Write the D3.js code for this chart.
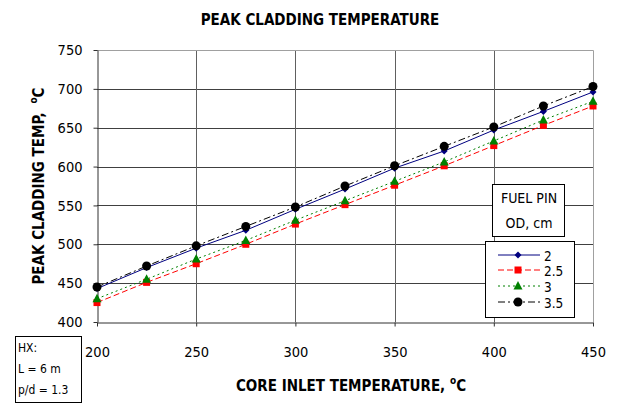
<!DOCTYPE html>
<html>
<head>
<meta charset="utf-8">
<script src="https://cdn.jsdelivr.net/npm/d3@7"></script>
<style>
  html, body { margin: 0; padding: 0; background: #fff; }
  svg { display: block; font-family: "DejaVu Sans Condensed", "DejaVu Sans", sans-serif; }
</style>
</head>
<body>
<svg id="chart" width="618" height="404"></svg>
<script>
// Core inlet temperature (°C)
const inletTemps = [200, 225, 250, 275, 300, 325, 350, 375, 400, 425, 450];

// Peak cladding temperature (°C) for each fuel pin outer diameter
const od2   = [443, 470, 495, 518, 545, 571, 598, 620, 647, 671, 696];
const od25  = [425, 451, 475, 500, 526, 551, 576, 601, 627, 653, 678];
const od3   = [430, 455, 481, 505, 531, 556, 581, 606, 633, 660, 684];
const od35  = [445, 472, 498, 523, 548, 575, 601, 626, 651, 678, 703];

const seriesNames = ["2", "2.5", "3", "3.5"];
const xTicks = [200, 250, 300, 350, 400, 450];
const yTicks = [400, 450, 500, 550, 600, 650, 700, 750];

const seriesStyle = [
  { values: od2,  color: "#000080", dash: null,        marker: "diamond" },
  { values: od25, color: "#ff0000", dash: "6,3",       marker: "square" },
  { values: od3,  color: "#008000", dash: "2,3",       marker: "triangle" },
  { values: od35, color: "#000000", dash: "7,3,2,3",   marker: "circle" }
];

const svg = d3.select("#chart");
const plot = { left: 97, right: 593, top: 50, bottom: 322 };

const x = d3.scaleLinear().domain([200, 450]).range([plot.left, plot.right]);
const y = d3.scaleLinear().domain([400, 750]).range([plot.bottom, plot.top]);

// Gridlines
const grid = svg.append("g");
grid.selectAll("line.h").data(yTicks.filter(v => v > 400 && v < 750)).join("line")
  .attr("x1", plot.left).attr("x2", plot.right)
  .attr("y1", d => Math.round(y(d)) + 0.5).attr("y2", d => Math.round(y(d)) + 0.5)
  .attr("stroke", "#404040").attr("stroke-width", 1);
grid.selectAll("line.v").data(xTicks.filter(v => v > 200 && v < 450)).join("line")
  .attr("y1", plot.top).attr("y2", plot.bottom)
  .attr("x1", d => Math.round(x(d)) + 0.5).attr("x2", d => Math.round(x(d)) + 0.5)
  .attr("stroke", "#606060").attr("stroke-width", 1);

// Plot frame (top and right)
svg.append("path")
  .attr("d", `M${plot.left},${plot.top + 0.5}H${plot.right + 0.5}V${plot.bottom}`)
  .attr("fill", "none").attr("stroke", "#a0a0a0");

// Axes
const xAxis = d3.axisBottom(x).tickValues(xTicks).tickSizeInner(4).tickSizeOuter(0).tickPadding(20);
const yAxis = d3.axisLeft(y).tickValues(yTicks).tickSizeInner(4).tickSizeOuter(0).tickPadding(11);

const gx = svg.append("g").attr("transform", `translate(0,${Math.round(plot.bottom) + 0.5})`).call(xAxis);
const gy = svg.append("g").attr("transform", `translate(${plot.left + 0.5},0)`).call(yAxis);
[gx, gy].forEach(g => {
  g.select(".domain").attr("stroke", "#303030");
  g.selectAll(".tick line").attr("stroke", "#303030");
  g.selectAll(".tick text").attr("fill", "#000").style("font-size", "14.5px")
    .style("font-family", "'DejaVu Sans Condensed', 'DejaVu Sans', sans-serif");
});

// Series lines and markers
const line = d3.line().x((d, i) => x(inletTemps[i])).y(d => y(d));

function drawMarker(g, type, color, cx, cy) {
  if (type === "diamond") {
    g.append("path").attr("d", `M${cx},${cy - 3.5}L${cx + 3.5},${cy}L${cx},${cy + 3.5}L${cx - 3.5},${cy}Z`).attr("fill", color);
  } else if (type === "square") {
    g.append("rect").attr("x", cx - 3.5).attr("y", cy - 3.5).attr("width", 7).attr("height", 7).attr("fill", color);
  } else if (type === "triangle") {
    g.append("path").attr("d", `M${cx},${cy - 5}L${cx + 4.5},${cy + 3.5}L${cx - 4.5},${cy + 3.5}Z`).attr("fill", color);
  } else {
    g.append("circle").attr("cx", cx).attr("cy", cy).attr("r", 4.5).attr("fill", color);
  }
}

const order = [1, 2, 0, 3];
order.forEach(k => {
  const s = seriesStyle[k];
  const g = svg.append("g");
  g.append("path").datum(s.values).attr("d", line)
    .attr("fill", "none").attr("stroke", s.color).attr("stroke-width", 1)
    .attr("stroke-dasharray", s.dash);
  s.values.forEach((v, i) => drawMarker(g, s.marker, s.color, x(inletTemps[i]), y(v)));
});

// Title
svg.append("text").attr("x", 320).attr("y", 25).attr("text-anchor", "middle")
  .style("font-size", "15px").style("font-weight", "bold").text("PEAK CLADDING TEMPERATURE");

// Axis titles
const xt = svg.append("text").attr("x", 351).attr("y", 391).attr("text-anchor", "middle")
  .style("font-size", "15px").style("font-weight", "bold");
xt.append("tspan").text("CORE INLET TEMPERATURE, ");
xt.append("tspan").attr("dy", -7).style("font-size", "10px").text("o");
xt.append("tspan").attr("dy", 7).text("C");

const yt = svg.append("text").attr("transform", "translate(44,186) rotate(-90)").attr("text-anchor", "middle")
  .style("font-size", "15px").style("font-weight", "bold");
yt.append("tspan").text("PEAK CLADDING TEMP, ");
yt.append("tspan").attr("dx", 4).attr("dy", -7).style("font-size", "10px").text("o");
yt.append("tspan").attr("dy", 7).text("C");

// Legend title box
svg.append("rect").attr("x", 492.5).attr("y", 184.5).attr("width", 72).attr("height", 52)
  .attr("fill", "#fff").attr("stroke", "#000");
svg.append("text").attr("x", 529).attr("y", 203).attr("text-anchor", "middle")
  .style("font-size", "14px").text("FUEL PIN");
svg.append("text").attr("x", 529).attr("y", 228).attr("text-anchor", "middle")
  .style("font-size", "14px").text("OD, cm");

// Legend
const legend = svg.append("g");
legend.append("rect").attr("x", 485.5).attr("y", 241.5).attr("width", 89).attr("height", 76)
  .attr("fill", "#fff").attr("stroke", "#000");
const legendY = [255, 270, 286, 302];
seriesStyle.forEach((s, i) => {
  const ly = legendY[i];
  legend.append("line").attr("x1", 498).attr("x2", 540).attr("y1", ly).attr("y2", ly)
    .attr("stroke", s.color).attr("stroke-dasharray", s.dash);
  drawMarker(legend, s.marker, s.color, 518, ly);
  legend.append("text").attr("x", 544).attr("y", ly + 5.5).style("font-size", "13.5px").text(seriesNames[i]);
});

// Heat exchanger note
svg.append("rect").attr("x", 15.5).attr("y", 336.5).attr("width", 66).attr("height", 66)
  .attr("fill", "#fff").attr("stroke", "#000");
["HX:", "L = 6 m", "p/d = 1.3"].forEach((t, i) => {
  svg.append("text").attr("x", 18).attr("y", 352 + i * 21).style("font-size", "12px").text(t);
});
</script>
</body>
</html>
